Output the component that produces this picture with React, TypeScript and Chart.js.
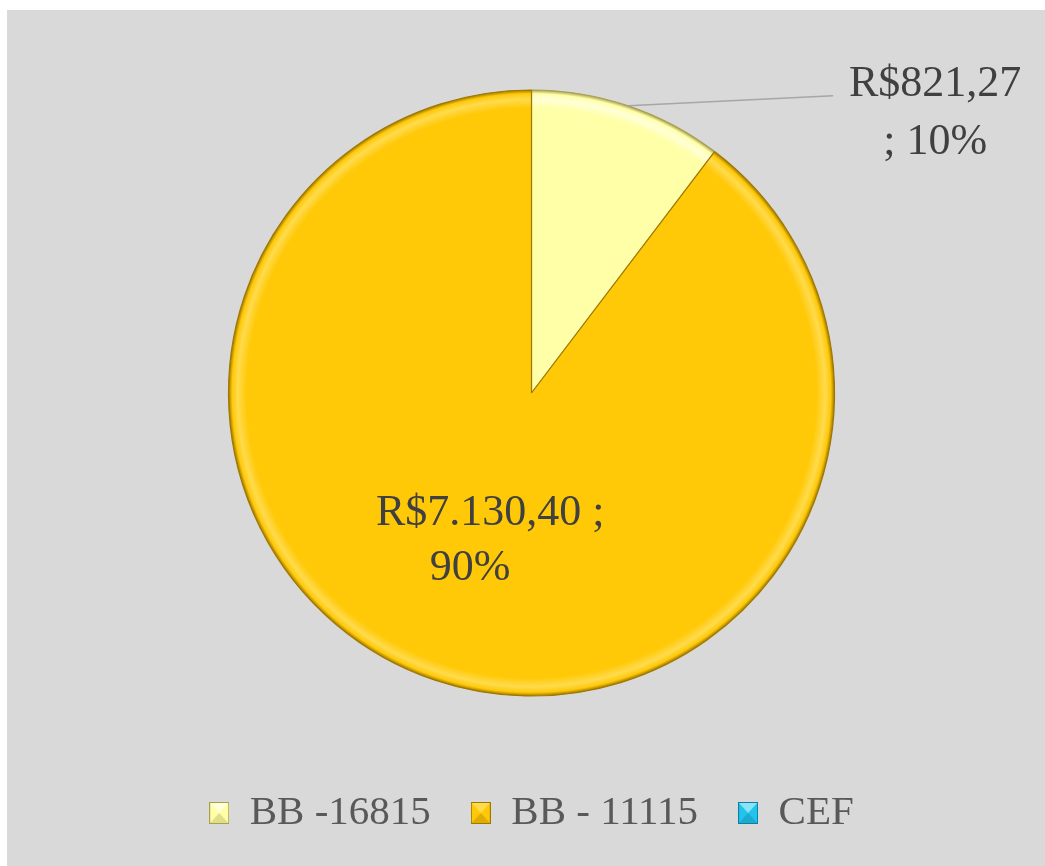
import React, { useEffect, useRef } from "react";
import { Chart, registerables } from "chart.js";

Chart.register(...registerables);

const categories = ["BB -16815", "BB - 11115", "CEF"];
const values = [821.27, 7130.4, 0];
const sliceColors = ["#FFFFA8", "#FFC908", "#22C3EC"];
const rimLight = ["#FFFFD8", "#FFDB4D", "#8BE3F7"];
const rimDark = ["#A9A050", "#A07800", "#0E7FA0"];

const SERIF = "'Liberation Serif', 'DejaVu Serif', serif";

function formatBRL(v: number): string {
  const [intPart, dec] = v.toFixed(2).split(".");
  const withDots = intPart.replace(/\B(?=(\d{3})+(?!\d))/g, ".");
  return `R$${withDots},${dec}`;
}

function makeMarker(base: string, light: string, dark: string): HTMLCanvasElement {
  const w = 20;
  const h = 22;
  const c = document.createElement("canvas");
  c.width = w;
  c.height = h;
  const g = c.getContext("2d")!;
  const poly = (pts: number[][], fill: string) => {
    g.beginPath();
    g.moveTo(pts[0][0], pts[0][1]);
    for (let k = 1; k < pts.length; k++) g.lineTo(pts[k][0], pts[k][1]);
    g.closePath();
    g.fillStyle = fill;
    g.fill();
  };
  g.fillStyle = base;
  g.fillRect(0, 0, w, h);
  poly([[0, 0], [w, 0], [w / 2, h / 2]], light);
  g.globalAlpha = 0.35;
  poly([[0, h], [w, h], [w / 2, h / 2]], dark);
  g.globalAlpha = 1;
  g.strokeStyle = dark;
  g.lineWidth = 1;
  g.strokeRect(0.5, 0.5, w - 1, h - 1);
  return c;
}

const labelPlugin = {
  id: "sliceLabels",
  afterDatasetsDraw(chart: any) {
    const ctx = chart.ctx as CanvasRenderingContext2D;
    const meta = chart.getDatasetMeta(0);
    const data = chart.data.datasets[0].data as number[];
    const total = data.reduce((a, b) => a + b, 0);
    ctx.save();
    ctx.font = `44px ${SERIF}`;
    ctx.fillStyle = "#404040";
    ctx.textAlign = "center";
    ctx.textBaseline = "alphabetic";
    meta.data.forEach((arc: any, i: number) => {
      const v = data[i];
      if (!v) return;
      const money = formatBRL(v);
      const pct = `${Math.round((v / total) * 100)}%`;
      const { x, y, startAngle, endAngle, outerRadius } = arc.getProps(
        ["x", "y", "startAngle", "endAngle", "outerRadius"],
        true
      );
      const span = endAngle - startAngle;
      if (span > 1.2) {
        const p = arc.tooltipPosition(true);
        ctx.fillText(`${money} ;`, p.x + 7, p.y - 12);
        ctx.fillText(pct, p.x - 13, p.y + 43);
      } else {
        const mid = (startAngle + endAngle) / 2;
        const sx = x + Math.cos(mid) * outerRadius;
        const sy = y + Math.sin(mid) * outerRadius;
        const ex = sx + 205;
        const ey = sy - 10;
        ctx.strokeStyle = "#A6A6A6";
        ctx.lineWidth = 1.5;
        ctx.beginPath();
        ctx.moveTo(sx, sy);
        ctx.lineTo(ex, ey);
        ctx.stroke();
        ctx.fillText(money, ex + 102, ey);
        ctx.fillText(`; ${pct}`, ex + 102, ey + 58);
      }
    });
    ctx.restore();
  },
};

export default function App() {
  const ref = useRef<HTMLCanvasElement | null>(null);

  useEffect(() => {
    if (!ref.current) return;
    const markers = sliceColors.map((c, i) => makeMarker(c, rimLight[i], rimDark[i]));
    const RADIUS = 303;
    const chart = new Chart(ref.current, {
      type: "pie",
      data: {
        labels: categories,
        datasets: [
          {
            data: values,
            radius: RADIUS,
            backgroundColor: (ctx: any) => {
              const i = ctx.dataIndex;
              const area = ctx.chart.chartArea;
              if (!area) return sliceColors[i];
              const cx = (area.left + area.right) / 2;
              const cy = (area.top + area.bottom) / 2;
              const g = ctx.chart.ctx.createRadialGradient(cx, cy, 0, cx, cy, RADIUS);
              g.addColorStop(0, sliceColors[i]);
              g.addColorStop(0.94, sliceColors[i]);
              g.addColorStop(0.97, rimLight[i]);
              g.addColorStop(0.988, sliceColors[i]);
              g.addColorStop(1, rimDark[i]);
              return g;
            },
            borderColor: (ctx: any) => rimDark[ctx.dataIndex],
            borderWidth: (ctx: any) => (values[ctx.dataIndex] ? 1.2 : 0),
          },
        ],
      },
      options: {
        animation: false,
        responsive: true,
        maintainAspectRatio: false,
        layout: { padding: { left: 11, right: 0, top: 23.5, bottom: 22.5 } },
        plugins: {
          tooltip: { enabled: false },
          legend: {
            display: true,
            position: "bottom",
            labels: {
              usePointStyle: true,
              boxWidth: 20,
              boxHeight: 22,
              padding: 40,
              color: "#595959",
              font: { family: SERIF, size: 41 },
              generateLabels: (ch: any) =>
                (ch.data.labels as string[]).map((text, i) => ({
                  text,
                  fillStyle: sliceColors[i],
                  strokeStyle: rimDark[i],
                  lineWidth: 0,
                  pointStyle: markers[i],
                  fontColor: "#595959",
                  hidden: false,
                  index: i,
                })),
            },
          },
        },
      },
      plugins: [labelPlugin],
    });
    return () => chart.destroy();
  }, []);

  return (
    <div
      style={{
        position: "absolute",
        left: 7,
        top: 10,
        width: 1038,
        height: 856,
        background: "#D9D9D9",
      }}
    >
      <canvas ref={ref} />
    </div>
  );
}
